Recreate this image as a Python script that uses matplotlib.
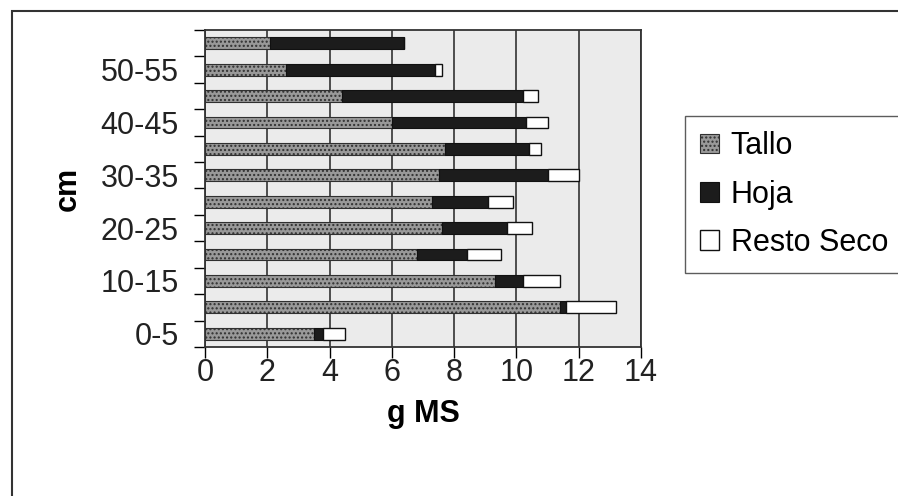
"""Dry matter per height stratum: stacked horizontal bars"""

import numpy as np
import matplotlib.pyplot as plt
from matplotlib.patches import Rectangle

plt.rcParams['font.family'] = ['Liberation Sans', 'DejaVu Sans']

# Height strata (cm), bottom to top
estratos = ['0-5', '5-10', '10-15', '15-20', '20-25', '25-30',
            '30-35', '35-40', '40-45', '45-50', '50-55', '55-60']

# Dry matter (g MS) for each fraction
tallo = [3.5, 11.4, 9.3, 6.8, 7.6, 7.3, 7.5, 7.7, 6.0, 4.4, 2.6, 2.1]
hoja = [0.3, 0.2, 0.9, 1.6, 2.1, 1.8, 3.5, 2.7, 4.3, 5.8, 4.8, 4.3]
resto = [0.7, 1.6, 1.2, 1.1, 0.8, 0.8, 1.0, 0.4, 0.7, 0.5, 0.2, 0.0]

x_ticks = [0, 2, 4, 6, 8, 10, 12, 14]

y = np.arange(len(estratos))
tallo = np.array(tallo)
hoja = np.array(hoja)
resto = np.array(resto)

fs = 22

fig = plt.figure(figsize=(8.98, 4.96), dpi=100)
ax = fig.add_axes([205 / 898, 1 - 347 / 496, 436 / 898, 317 / 496])
ax.set_facecolor('#ebebeb')

h = 0.45
ax.barh(y, tallo, height=h, color='#999999', edgecolor='#303030',
        hatch='....', linewidth=0.8, label='Tallo', zorder=3)
ax.barh(y, hoja, left=tallo, height=h, color='#1c1c1c', edgecolor='#111111',
        linewidth=0.8, label='Hoja', zorder=3)
ax.barh(y, resto, left=tallo + hoja, height=h, color='white',
        edgecolor='#111111', linewidth=1.0, label='Resto Seco', zorder=3)

ax.set_xlim(0, 14)
ax.set_ylim(-0.5, len(estratos) - 0.5)
ax.set_xticks(x_ticks)
ax.set_xticklabels([str(t) for t in x_ticks], fontsize=fs, color='#222222')
ax.tick_params(axis='x', direction='out', length=8, width=1, pad=0)
ax.xaxis.grid(True, color='#333333', linewidth=1.2, zorder=1)

# category ticks sit between strata, labels on every other stratum
ax.set_yticks(np.arange(-0.5, len(estratos), 1.0))
ax.set_yticklabels([])
ax.tick_params(axis='y', which='major', direction='out', length=8, width=1)
ax.set_yticks(y[::2], minor=True)
ax.set_yticklabels(estratos[::2], minor=True, fontsize=fs, color='#222222')
ax.tick_params(axis='y', which='minor', length=0, pad=19)

for s in ax.spines.values():
    s.set_color('#333333')
    s.set_linewidth(1.3)

ax.set_xlabel('g MS', fontsize=fs, fontweight='bold', labelpad=8)
ax.set_ylabel('cm', fontsize=fs, fontweight='bold', labelpad=13)

# legend box runs off the right edge of the figure
fig.legend(loc='upper left',
           bbox_to_anchor=(685 / 898, 1 - 262 / 496, 0.3, 146 / 496),
           mode='expand', fontsize=fs, frameon=True, fancybox=False,
           edgecolor='#333333', handlelength=0.6, handleheight=0.6,
           handletextpad=0.4, labelspacing=0.6, borderpad=0.5,
           borderaxespad=0)

# outer chart frame
fig.patches.append(Rectangle((12 / 898, -0.2), 1.2, 1 - 11 / 496 + 0.2,
                             transform=fig.transFigure, fill=False,
                             edgecolor='#333333', linewidth=1.5))

fig.savefig('out.png', dpi=100, facecolor='white')
